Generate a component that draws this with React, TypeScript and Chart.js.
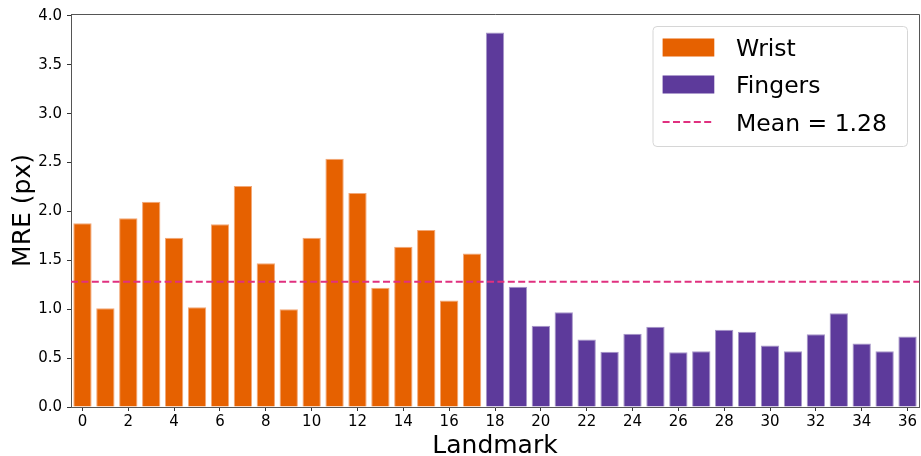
import React, { useEffect, useRef } from "react";
import { Chart, registerables } from "chart.js";

Chart.register(...registerables);

const landmarks: string[] = Array.from({ length: 37 }, (_, i) => String(i));
const wristValues: (number | null)[] = [
  1.88, 1.01, 1.93, 2.1, 1.73, 1.02, 1.87, 2.26, 1.47, 1.0, 1.73, 2.54, 2.19,
  1.22, 1.64, 1.81, 1.09, 1.57,
];
const fingerValues: (number | null)[] = [
  3.83, 1.23, 0.83, 0.97, 0.69, 0.565, 0.75, 0.82, 0.56, 0.57, 0.79, 0.77, 0.63,
  0.57, 0.745, 0.96, 0.65, 0.57, 0.72,
];
const meanValue = 1.28;
const seriesLabels = ["Wrist", "Fingers", "Mean = 1.28"];
const yMax = 4.02;

const WRIST_COLOR = "#e66100";
const WRIST_EDGE = "#f2a878";
const FINGER_COLOR = "#5d3a9b";
const FINGER_EDGE = "#a797c8";
const MEAN_COLOR = "#e0307f";
const FONT = "'DejaVu Sans', sans-serif";

export default function App() {
  const ref = useRef<HTMLCanvasElement | null>(null);

  useEffect(() => {
    if (!ref.current) return;
    const wristData = landmarks.map((_, i) => (i < wristValues.length ? wristValues[i] : null));
    const fingerData = landmarks.map((_, i) =>
      i >= wristValues.length ? fingerValues[i - wristValues.length] : null
    );

    const framePlugin = {
      id: "frameAndMean",
      afterDatasetsDraw(chart: any) {
        const { ctx, chartArea, scales } = chart;
        const y = scales.y.getPixelForValue(meanValue);
        ctx.save();
        ctx.strokeStyle = MEAN_COLOR;
        ctx.lineWidth = 2;
        ctx.setLineDash([7, 3.4]);
        ctx.beginPath();
        ctx.moveTo(chartArea.left, y);
        ctx.lineTo(chartArea.right, y);
        ctx.stroke();
        ctx.setLineDash([]);
        // frame (top and right spines)
        ctx.strokeStyle = "#555";
        ctx.lineWidth = 1;
        ctx.beginPath();
        ctx.moveTo(chartArea.left, chartArea.top + 0.5);
        ctx.lineTo(chartArea.right + 0.5, chartArea.top + 0.5);
        ctx.lineTo(chartArea.right + 0.5, chartArea.bottom);
        ctx.stroke();

        // legend
        const bx = chartArea.right - 266;
        const by = chartArea.top + 12.5;
        const bw = 254.5;
        const bh = 120;
        const r = 4;
        ctx.beginPath();
        ctx.moveTo(bx + r, by);
        ctx.lineTo(bx + bw - r, by);
        ctx.arcTo(bx + bw, by, bx + bw, by + r, r);
        ctx.lineTo(bx + bw, by + bh - r);
        ctx.arcTo(bx + bw, by + bh, bx + bw - r, by + bh, r);
        ctx.lineTo(bx + r, by + bh);
        ctx.arcTo(bx, by + bh, bx, by + bh - r, r);
        ctx.lineTo(bx, by + r);
        ctx.arcTo(bx, by, bx + r, by, r);
        ctx.closePath();
        ctx.fillStyle = "rgba(255,255,255,0.8)";
        ctx.fill();
        ctx.strokeStyle = "#d6d6d6";
        ctx.lineWidth = 1;
        ctx.stroke();

        const hx = bx + 9.6;
        const hw = 51.7;
        const rows = [by + 21, by + 58, by + 95.4];
        ctx.fillStyle = WRIST_COLOR;
        ctx.fillRect(hx, rows[0] - 9, hw, 18);
        ctx.fillStyle = FINGER_COLOR;
        ctx.fillRect(hx, rows[1] - 9, hw, 18);
        ctx.strokeStyle = MEAN_COLOR;
        ctx.lineWidth = 2;
        ctx.setLineDash([7, 3.4]);
        ctx.beginPath();
        ctx.moveTo(hx, rows[2]);
        ctx.lineTo(hx + hw, rows[2]);
        ctx.stroke();
        ctx.setLineDash([]);

        ctx.fillStyle = "#000";
        ctx.font = `23.5px ${FONT}`;
        ctx.textBaseline = "alphabetic";
        ctx.textAlign = "left";
        seriesLabels.forEach((t, i) => {
          ctx.fillText(t, bx + 83, rows[i] + 8.6);
        });
        ctx.restore();
      },
    };

    const chart = new Chart(ref.current, {
      type: "bar",
      data: {
        labels: landmarks,
        datasets: [
          {
            label: seriesLabels[0],
            data: wristData,
            backgroundColor: WRIST_COLOR,
            borderColor: WRIST_EDGE,
            borderWidth: 1,
            barPercentage: 0.8,
            categoryPercentage: 1,
          },
          {
            label: seriesLabels[1],
            data: fingerData,
            backgroundColor: FINGER_COLOR,
            borderColor: FINGER_EDGE,
            borderWidth: 1,
            barPercentage: 0.8,
            categoryPercentage: 1,
          },
        ],
      },
      options: {
        responsive: false,
        animation: false,
        devicePixelRatio: 1,
        layout: { padding: { top: 13, right: 2, left: 0, bottom: 0 } },
        plugins: {
          legend: { display: false },
          tooltip: { enabled: false },
        },
        scales: {
          x: {
            stacked: true,
            offset: true,
            afterFit: (s: any) => {
              s.height = 49;
            },
            grid: {
              display: true,
              drawOnChartArea: false,
              drawTicks: true,
              offset: false,
              tickLength: 4,
              color: (c: any) => (c.index % 2 === 0 ? "#333" : "rgba(0,0,0,0)"),
            },
            border: { display: true, color: "#555", width: 1 },
            ticks: {
              autoSkip: false,
              maxRotation: 0,
              minRotation: 0,
              padding: 2,
              color: "#000",
              font: { family: FONT, size: 15 },
              callback: (v: any, i: number) => (i % 2 === 0 ? landmarks[i] : ""),
            },
            title: {
              display: true,
              text: "Landmark",
              color: "#000",
              font: { family: FONT, size: 25, lineHeight: 0.8 },
              padding: 0,
            },
          },
          y: {
            stacked: true,
            min: 0,
            max: yMax,
            afterFit: (s: any) => {
              s.width = 71;
            },
            grid: {
              display: true,
              drawOnChartArea: false,
              drawTicks: true,
              tickLength: 4,
              color: "#333",
            },
            border: { display: true, color: "#555", width: 1 },
            ticks: {
              stepSize: 0.5,
              includeBounds: false,
              padding: 5,
              color: "#000",
              font: { family: FONT, size: 15 },
              callback: (v: any) => Number(v).toFixed(1),
            },
            title: {
              display: true,
              text: "MRE (px)",
              color: "#000",
              font: { family: FONT, size: 25, lineHeight: 1.2 },
              padding: { top: 8, bottom: 0 },
            },
          },
        },
      },
      plugins: [framePlugin],
    });
    return () => chart.destroy();
  }, []);

  return (
    <div style={{ position: "absolute", left: 0, top: 0, width: 921, height: 456, background: "#fff" }}>
      <canvas ref={ref} width={921} height={456} style={{ display: "block" }} />
    </div>
  );
}
